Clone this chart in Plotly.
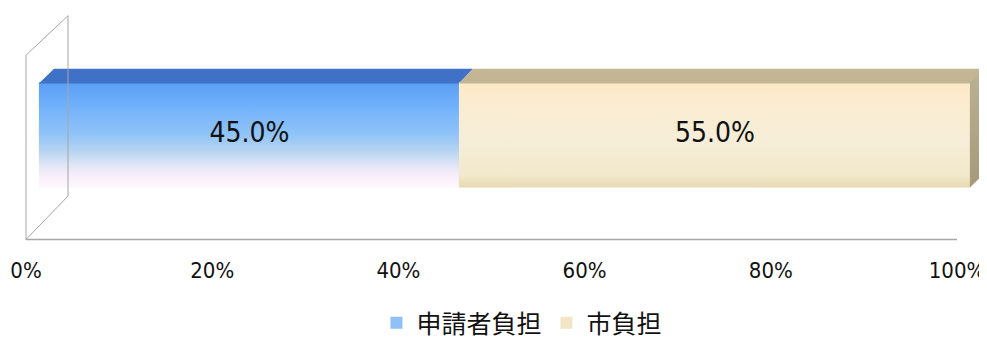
"""3D-style 100% stacked bar: applicant vs city share of cost."""

import plotly.graph_objects as go

# Data
categories = ["申請者負担", "市負担"]
values = [45.0, 55.0]
tick_vals = [0, 20, 40, 60, 80, 100]
tick_text = [f"{v}%" for v in tick_vals]

# Styling
front_scales = [
    [[0, "#fdf7fd"], [0.1, "#f8eefa"], [0.2, "#e2e6f5"], [0.33, "#b9d5f0"],
     [0.5, "#90c4f8"], [0.78, "#70b0fa"], [1, "#5a9ef5"]],
    [[0, "#e8dab2"], [0.1, "#f2e8cc"], [0.45, "#f6eed8"], [0.8, "#fbecd0"],
     [1, "#fde9c6"]],
]
swatch_colors = ["#8fc0f6", "#f3e6c6"]
top_colors = ["#3f72c6", "#c4b594"]
side_colors = ["#a69a7b", "#bdb193"]
NARROW = "DejaVu Sans Condensed, Roboto, Liberation Sans"

# the page body adds an 8px margin, keep the figure inside the window
BODY = 8
W, H = 987 - BODY, 354 - 2 * BODY
PX_PER_UNIT = 9.31
X0_PX = 26 - BODY
x_min = -X0_PX / PX_PER_UNIT
x_max = x_min + W / PX_PER_UNIT


def py(page_y):
    """page pixel row -> y data value"""
    return H - (page_y - BODY)


# bar geometry in data coords; the bar sits half way into the depth of the box
bar_top, bar_bot = py(85), py(193)
bx = 14 / PX_PER_UNIT      # bar front plane offset from the floor front edge
dx = 14 / PX_PER_UNIT      # bar depth
dy = 14
pad_x, pad_y = 0.12, 1.2   # overlay slightly larger than the bar to hide its edge

fig = go.Figure()

# front faces (solid bars carry the legend)
start = 0
starts = []
for name, v, c in zip(categories, values, swatch_colors):
    starts.append(start)
    fig.add_trace(go.Bar(
        x=[v], base=[start + bx], y=[(bar_top + bar_bot) / 2],
        width=[bar_top - bar_bot], orientation='h',
        marker=dict(color=c, line=dict(width=0)),
        name=name, hoverinfo='skip'
    ))
    start += v

# gradient overlays and top faces
for i, (v, s) in enumerate(zip(values, starts)):
    s, e = s + bx, s + v + bx
    x0 = s - pad_x if i == 0 else s
    fig.add_trace(go.Scatter(
        x=[x0, e, e, x0, x0],
        y=[bar_bot - pad_y, bar_bot - pad_y, bar_top, bar_top, bar_bot - pad_y],
        mode='lines', fill='toself', line=dict(width=0),
        fillgradient=dict(type='vertical', colorscale=front_scales[i],
                          start=bar_bot, stop=bar_top),
        showlegend=False, hoverinfo='skip'
    ))
    fig.add_trace(go.Scatter(
        x=[x0, s + dx, e + dx, e, x0],
        y=[bar_top - pad_y, bar_top + dy, bar_top + dy, bar_top - pad_y, bar_top - pad_y],
        mode='lines', fill='toself', line=dict(width=0),
        fillcolor=top_colors[i], showlegend=False, hoverinfo='skip'
    ))

# right side face
end = sum(values) + bx
fig.add_trace(go.Scatter(
    x=[end - pad_x, end + dx, end + dx, end - pad_x, end - pad_x],
    y=[bar_top, bar_top + dy, bar_bot + dy, bar_bot - pad_y, bar_top],
    mode='lines', fill='toself', line=dict(width=0),
    fillgradient=dict(type='vertical', colorscale=[[0, side_colors[0]], [1, side_colors[1]]],
                      start=bar_bot, stop=bar_top + dy),
    showlegend=False, hoverinfo='skip'
))

# value labels
fig.add_trace(go.Scatter(
    x=[s + v / 2 + bx for s, v in zip(starts, values)],
    y=[py(140)] * len(values),
    mode='text', text=[f"{v:.1f}%" for v in values],
    textfont=dict(family=NARROW, size=28, color="#111111"),
    showlegend=False, hoverinfo='skip'
))

# walls / floor
wall = dict(color="#a6a6a6", width=1)
floor_y, wall_top = py(248), py(57)
back_dx = 42 / PX_PER_UNIT
fig.add_shape(type='line', x0=0, x1=0, y0=floor_y, y1=wall_top, line=wall)
fig.add_shape(type='line', x0=back_dx, x1=back_dx, y0=py(203), y1=py(16), line=wall)
fig.add_shape(type='line', x0=0, x1=back_dx, y0=wall_top, y1=py(16), line=wall)
fig.add_shape(type='line', x0=0, x1=back_dx, y0=floor_y, y1=py(203), line=wall)
fig.add_shape(type='line', x0=0, x1=100, y0=floor_y, y1=floor_y,
              line=dict(color="#a6a6a6", width=1.5))

fig.update_layout(
    width=W, height=H,
    margin=dict(l=0, r=0, t=0, b=0),
    plot_bgcolor='white', paper_bgcolor='white',
    barmode='overlay', bargap=0,
    xaxis=dict(range=[x_min, x_max], showgrid=False, zeroline=False, showline=False,
               tickvals=tick_vals, ticktext=tick_text, ticks='',
               anchor='free', position=floor_y / H, ticklabelstandoff=16,
               automargin=False, ticklabeloverflow='allow',
               tickfont=dict(family=NARROW, size=22, color="#111111")),
    yaxis=dict(range=[0, H], visible=False, automargin=False),
    legend=dict(orientation='h', x=0.525, xanchor='center', y=py(335) / H, yanchor='middle',
                font=dict(family="Noto Sans CJK JP", size=25, color="#111111"),
                itemclick=False),
    showlegend=True
)

fig.write_html("out.html")
